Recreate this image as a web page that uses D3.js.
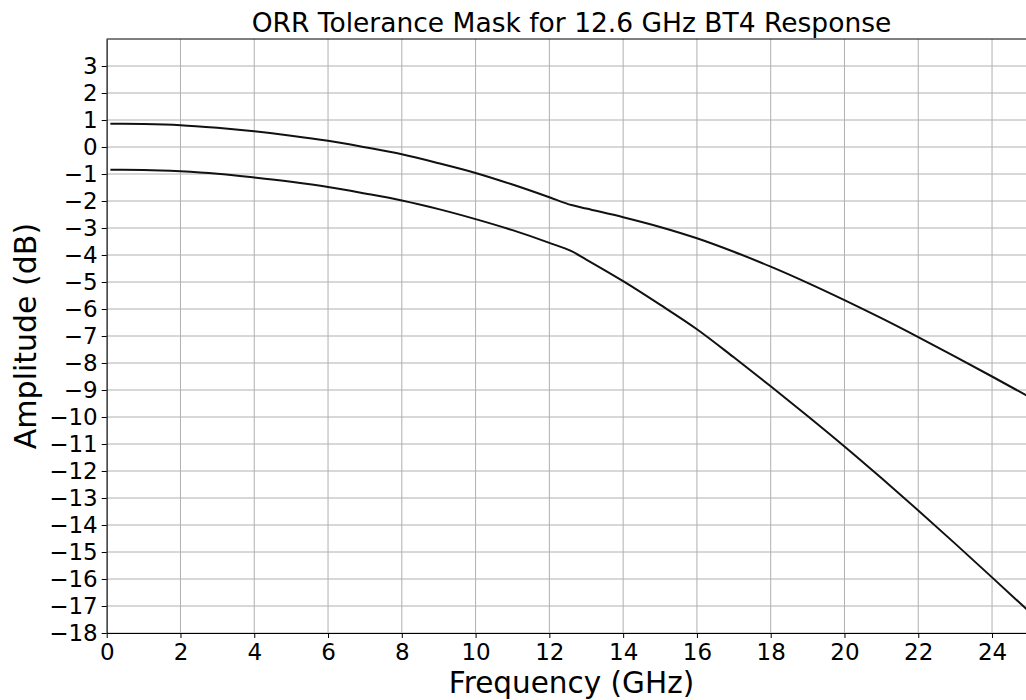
<!DOCTYPE html>
<html>
<head>
<meta charset="utf-8">
<script src="https://cdn.jsdelivr.net/npm/d3@7"></script>
<style>
    body { margin: 0; background: #fff; }
    svg { display: block; font-family: "DejaVu Sans", sans-serif; }
    .grid line { stroke: #b0b0b0; stroke-width: 1; }
    .axis path, .axis line { stroke: #000; stroke-width: 1; }
</style>
</head>
<body>
<svg id="chart"></svg>
<script>
// frequency points (GHz)
const freqs = [0.1, 1, 2, 3, 4, 5, 6, 7, 8, 9, 10, 11, 12, 12.6, 13, 14, 15, 16, 17, 18, 19, 20, 21, 22, 23, 24, 25];
const upperMask = [0.86, 0.85, 0.81, 0.71, 0.58, 0.42, 0.23, -0.01, -0.27, -0.60, -0.96, -1.39, -1.86, -2.15, -2.28, -2.60, -2.96, -3.38, -3.88, -4.43, -5.03, -5.67, -6.34, -7.04, -7.76, -8.50, -9.25];
const lowerMask = [-0.84, -0.85, -0.90, -0.99, -1.13, -1.29, -1.48, -1.72, -1.98, -2.30, -2.67, -3.08, -3.55, -3.86, -4.17, -4.97, -5.84, -6.75, -7.79, -8.86, -9.96, -11.09, -12.26, -13.46, -14.69, -15.94, -17.2];
const xTicks = [0, 2, 4, 6, 8, 10, 12, 14, 16, 18, 20, 22, 24];
const yTicks = d3.range(-18, 4);

const width = 1026;
const height = 700;
const margin = { top: 39, left: 106.7 };
const plotW = 929.6;   // axis runs to 25.2 GHz, past the picture edge
const plotH = 594;

const svg = d3.select("#chart")
    .attr("width", width)
    .attr("height", height);

const xScale = d3.scaleLinear().domain([0, 25.2]).range([0, plotW]);
const yScale = d3.scaleLinear().domain([-18, 4]).range([plotH, 0]);

const g = svg.append("g")
    .attr("transform", `translate(${margin.left},${margin.top})`);

g.append("clipPath").attr("id", "clip")
    .append("rect").attr("width", plotW).attr("height", plotH);

// grid
g.append("g").attr("class", "grid")
    .selectAll("line.v").data(xTicks).enter().append("line")
    .attr("x1", d => xScale(d)).attr("x2", d => xScale(d))
    .attr("y1", 0).attr("y2", plotH);

g.append("g").attr("class", "grid")
    .selectAll("line.h").data(yTicks).enter().append("line")
    .attr("x1", 0).attr("x2", plotW)
    .attr("y1", d => yScale(d)).attr("y2", d => yScale(d));

// mask curves
const line = d3.line()
    .x((d, i) => xScale(freqs[i]))
    .y(d => yScale(d))
    .curve(d3.curveMonotoneX);

[upperMask, lowerMask].forEach(series => {
    g.append("path")
        .datum(series)
        .attr("clip-path", "url(#clip)")
        .attr("fill", "none")
        .attr("stroke", "#111")
        .attr("stroke-width", 2)
        .attr("d", line);
});

// axes
const xAxis = g.append("g").attr("class", "axis")
    .attr("transform", `translate(0,${plotH})`)
    .call(d3.axisBottom(xScale).tickValues(xTicks).tickSize(5).tickPadding(5.5).tickSizeOuter(0));

const yAxis = g.append("g").attr("class", "axis")
    .call(d3.axisLeft(yScale).tickValues(yTicks).tickSize(5).tickPadding(4).tickSizeOuter(0));

[xAxis, yAxis].forEach(a => {
    a.attr("font-family", "DejaVu Sans").attr("font-size", null);
    a.selectAll("text")
        .attr("fill", "#000")
        .style("font-size", "23px");
});

// top and right spines
g.append("line").attr("x1", 0).attr("x2", plotW).attr("y1", 0).attr("y2", 0)
    .attr("stroke", "#000").attr("stroke-width", 1);
g.append("line").attr("x1", plotW).attr("x2", plotW).attr("y1", 0).attr("y2", plotH)
    .attr("stroke", "#000").attr("stroke-width", 1);

// title and axis labels
svg.append("text")
    .attr("x", margin.left + plotW / 2)
    .attr("y", 32)
    .attr("text-anchor", "middle")
    .style("font-size", "26.5px")
    .text("ORR Tolerance Mask for 12.6 GHz BT4 Response");

svg.append("text")
    .attr("x", margin.left + plotW / 2)
    .attr("y", 693)
    .attr("text-anchor", "middle")
    .style("font-size", "29.5px")
    .text("Frequency (GHz)");

svg.append("text")
    .attr("transform", `translate(36,${margin.top + plotH / 2}) rotate(-90)`)
    .attr("text-anchor", "middle")
    .style("font-size", "30px")
    .text("Amplitude (dB)");
</script>
</body>
</html>
